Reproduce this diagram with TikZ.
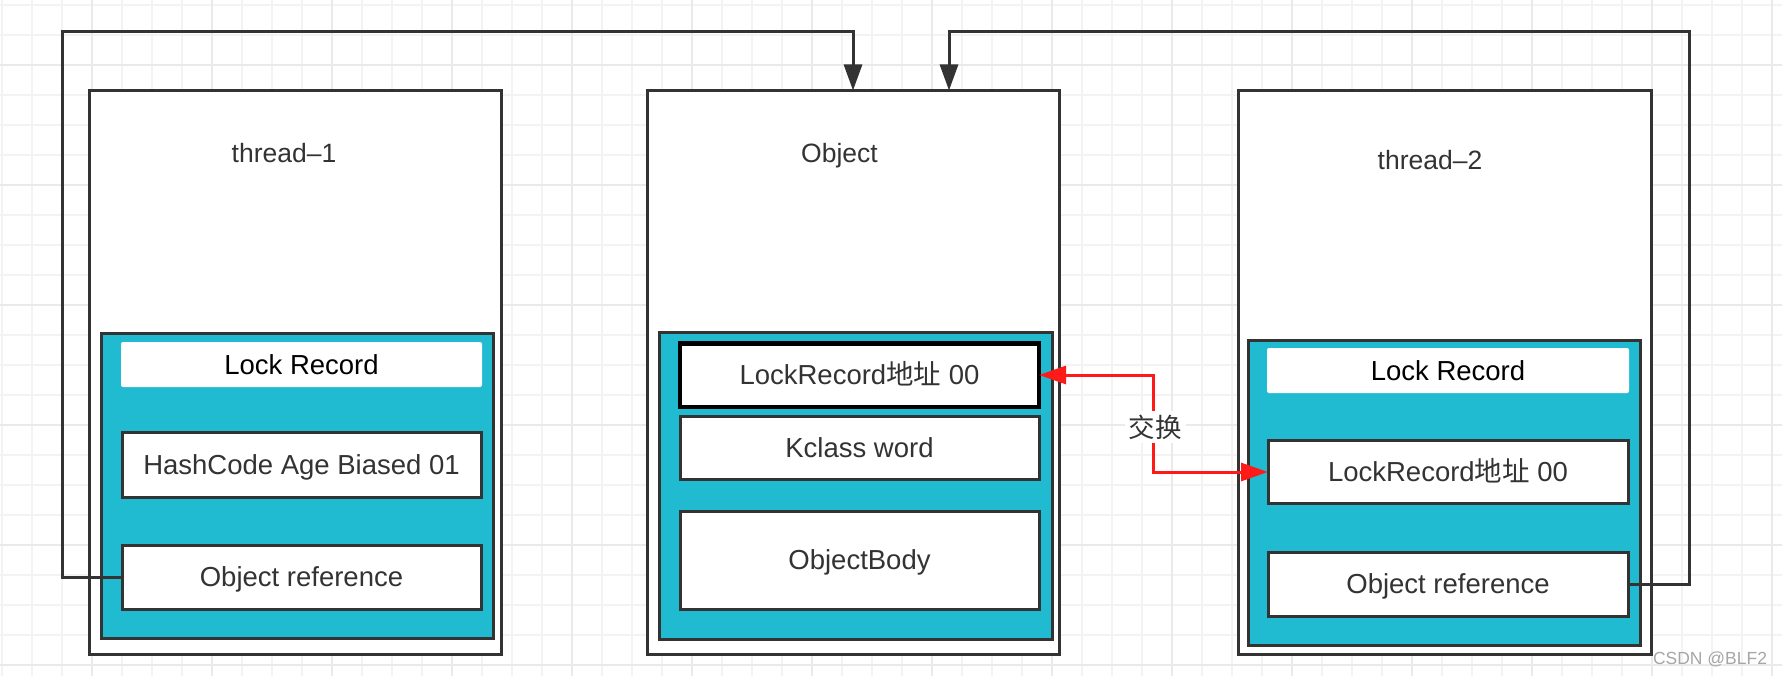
\documentclass[tikz,border=0pt]{standalone}
\usepackage{fontspec}
\setmainfont{Liberation Sans}
\newfontfamily\cjk{Noto Sans CJK SC}
\usetikzlibrary{arrows.meta}
\definecolor{ln}{HTML}{333333}
\definecolor{tealfill}{HTML}{21BBD1}
\definecolor{redl}{HTML}{FF1A1A}
\definecolor{gmin}{HTML}{F3F3F3}
\definecolor{gmaj}{HTML}{EAEAEA}
\definecolor{wmark}{HTML}{A6A6A6}
\begin{document}
\begin{tikzpicture}[x=1pt,y=-1pt,
  every node/.style={inner sep=0pt, outer sep=0pt},
  txt/.style={font=\fontsize{26.5}{30}\selectfont},
  ftxt/.style={font=\fontsize{27.5}{31}\selectfont},
  outerbox/.style={draw=ln, fill=white, line width=3pt, minimum width=412pt, minimum height=564pt},
  tealbox/.style={draw=ln, fill=tealfill, line width=3pt, minimum width=392pt, minimum height=305pt},
  headbox/.style={ftxt, fill=white, rounded corners=2pt, minimum width=361pt, minimum height=45pt, text=black, text height=19.7pt, text depth=0pt},
  fieldbox/.style={ftxt, draw=ln, fill=white, line width=3pt, minimum width=359pt, minimum height=64pt, text=ln, text height=19.7pt, text depth=0pt},
  titletext/.style={txt, text=ln, anchor=base},
  conn/.style={draw=ln, line width=3pt, -{Triangle[length=26pt,width=18pt]}},
  swap/.style={draw=redl, line width=3pt, {Triangle[length=27pt,width=18pt]}-{Triangle[length=27pt,width=18pt]}},
]
\useasboundingbox (0,0) rectangle (1782,676);
\fill[white] (0,0) rectangle (1782,676);
% grid
\foreach \i in {0,...,59} {\draw[gmin, line width=1.5pt] (2+30*\i,0) -- (2+30*\i,676);}
\foreach \j in {0,...,22} {\draw[gmin, line width=1.5pt] (0,5+30*\j) -- (1782,5+30*\j);}
\foreach \i in {0,...,14} {\draw[gmaj, line width=2pt] (92+120*\i,0) -- (92+120*\i,676);}
\foreach \j in {0,...,5} {\draw[gmaj, line width=2pt] (0,65+120*\j) -- (1782,65+120*\j);}

% thread-1
\node[outerbox] (t1) at (295,372.5) {};
\node[titletext] (t1title) at (284,163) {thread–1};
\node[tealbox] (t1teal) at (297,485.5) {};
\node[headbox] (t1head) at (301.5,364.5) {Lock Record};
\node[fieldbox, minimum height=65pt] (hc) at (301.5,464.5) {HashCode Age Biased 01};
\node[fieldbox] (or1) at (301.5,577) {Object reference};

% Object
\node[outerbox] (obj) at (853,372.5) {};
\node[titletext] (objtitle) at (839.5,163) {Object};
\node[tealbox, minimum width=393pt, minimum height=307pt] (objteal) at (855.5,485.5) {};
\node[fieldbox, draw=black, line width=4.5pt, minimum height=63.5pt] (lro) at (859.5,375) {LockRecord{\cjk 地址} 00};
\node[fieldbox, minimum height=63pt] (kc) at (859.5,447.5) {Kclass word};
\node[fieldbox, minimum height=98pt] (ob) at (859.5,560) {ObjectBody};

% thread-2
\node[outerbox, minimum width=413pt] (t2) at (1444.5,372.5) {};
\node[titletext] (t2title) at (1430,169.5) {thread–2};
\node[tealbox] (t2teal) at (1444,492.5) {};
\node[headbox, minimum width=362pt] (t2head) at (1448,370.5) {Lock Record};
\node[fieldbox, minimum width=360pt, minimum height=63.5pt] (lr2) at (1448,472) {LockRecord{\cjk 地址} 00};
\node[fieldbox, minimum width=360pt] (or2) at (1448,584) {Object reference};

% loops
\coordinate (a1) at (62,577);
\coordinate (a2) at (62,31.5);
\coordinate (a3) at (853,31.5);
\draw[conn] (or1.west) -- (a1) -- (a2) -- (a3) -- (a3 |- obj.north);
\coordinate (b1) at (1689,584);
\coordinate (b2) at (1689,31.5);
\coordinate (b3) at (949,31.5);
\draw[conn] (or2.east) -- (b1) -- (b2) -- (b3) -- (b3 |- obj.north);

% swap
\coordinate (sx) at (1153,0);
\draw[swap] (lro.east) -- (lro.east -| sx) -- (sx |- lr2.west) -- (lr2.west);
\node[txt, fill=white, text=ln, inner sep=4pt] (swaplabel) at (1155,427) {\cjk 交换};

% watermark
\node[font=\fontsize{17.5}{20}\selectfont, text=wmark] (wm) at (1710,659) {CSDN @BLF2};
\end{tikzpicture}
\end{document}
